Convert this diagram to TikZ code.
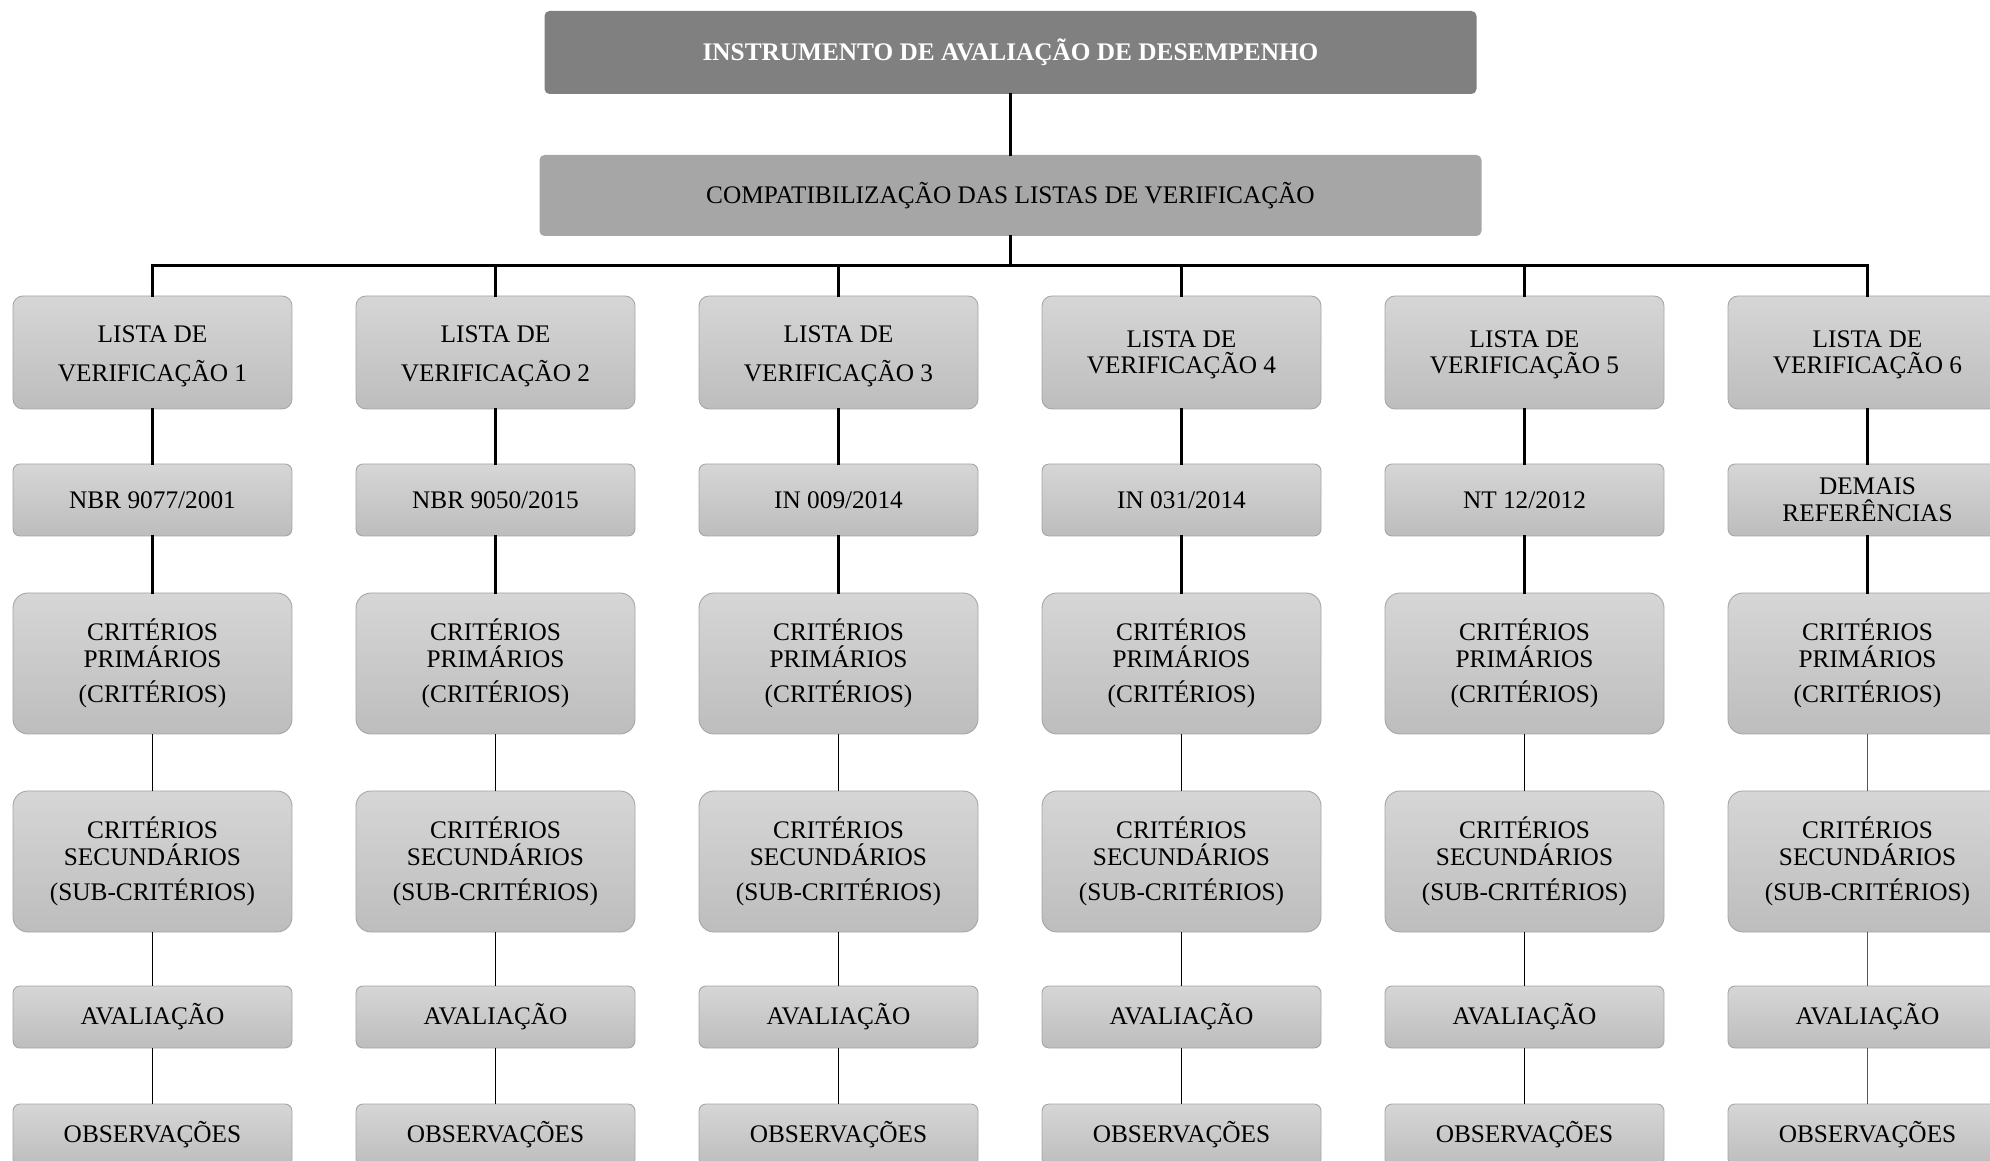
\documentclass[tikz,border=0pt]{standalone}
\usepackage{fontspec}
\setmainfont{Liberation Serif}
\usepackage{tikz}
\usetikzlibrary{positioning,calc}
\definecolor{TopGray}{RGB}{128,128,128}
\definecolor{MidGray}{RGB}{166,166,166}
\definecolor{BoxTop}{RGB}{214,214,214}
\definecolor{BoxBottom}{RGB}{189,189,189}
\definecolor{BoxEdge}{RGB}{165,165,165}
\definecolor{LineGray}{RGB}{85,85,85}
\tikzset{headbox/.style={rectangle,rounded corners=0.1cm,inner sep=0pt,align=center,
			font=\fontsize{14.4}{15.1}\selectfont}}
\tikzset{box/.style={rectangle,rounded corners=0.14cm,draw=BoxEdge,line width=0.5pt,
			top color=BoxTop,bottom color=BoxBottom,minimum width=5.58cm,inner sep=0pt,
			align=center,font=\fontsize{14.4}{15.1}\selectfont}}
\tikzset{listbox/.style={box,rounded corners=0.2cm,minimum height=2.26cm}}
\tikzset{refbox/.style={box,minimum height=1.44cm}}
\tikzset{critbox/.style={box,rounded corners=0.3cm,minimum height=2.82cm}}
\tikzset{lowbox/.style={box,minimum height=1.24cm}}
\tikzset{busline/.style={line width=1.4pt,line cap=rect}}
\tikzset{thinline/.style={line width=0.85pt}}

\begin{document}
\begin{tikzpicture}
	\useasboundingbox (0,0) rectangle (39.8,23.2);
	\clip (0,0) rectangle (39.8,23.2);
	\node[headbox,fill=TopGray,minimum width=18.64cm,minimum height=1.66cm,text=white] (instr) at (20.21,22.15) {\bfseries INSTRUMENTO DE AVALIAÇÃO DE DESEMPENHO};
	\node[headbox,fill=MidGray,minimum width=18.84cm,minimum height=1.62cm] (compat) at (20.21,19.29) {COMPATIBILIZAÇÃO DAS LISTAS DE VERIFICAÇÃO};
	\coordinate (bus) at (20.21,17.88);
	\draw[busline] (instr) -- (compat);
	\draw[busline] (compat) -- (bus);
	% one column per checklist
	\foreach \i/\ref in {1/{NBR 9077/2001},2/{NBR 9050/2015},3/{IN 009/2014},4/{IN 031/2014},5/{NT 12/2012},6/{DEMAIS\\REFERÊNCIAS}}{
		\pgfmathsetmacro{\x}{3.05+6.86*(\i-1)}
		\ifnum\i<4 \def\lsep{7.3pt}\def\lstrut{13.9pt}\else\def\lsep{0pt}\def\lstrut{12.3pt}\fi
		\ifnum\i=6 \def\lcol{LineGray}\else\def\lcol{black}\fi
		\node[listbox] (lista\i) at (\x,16.15) {\rule{0pt}{\lstrut}LISTA DE\\[\lsep]VERIFICAÇÃO \i};
		\node[refbox] (ref\i) at (\x,13.2) {\ref};
		\node[critbox] (prim\i) at (\x,9.93) {CRITÉRIOS\\PRIMÁRIOS\\[5pt](CRITÉRIOS)};
		\node[critbox] (sec\i) at (\x,5.97) {CRITÉRIOS\\SECUNDÁRIOS\\[5pt](SUB-CRITÉRIOS)};
		\node[lowbox] (aval\i) at (\x,2.86) {AVALIAÇÃO};
		\node[lowbox] (obs\i) at (\x,0.5) {OBSERVAÇÕES};
		\draw[busline] (lista\i |- bus) -- (lista\i.north);
		\draw[busline] (lista\i.south) -- (ref\i.north);
		\draw[busline] (ref\i.south) -- (prim\i.north);
		\draw[thinline,\lcol] (prim\i.south) -- (sec\i.north);
		\draw[thinline,\lcol] (sec\i.south) -- (aval\i.north);
		\draw[thinline,\lcol] (aval\i.south) -- (obs\i.north);
	}
	\draw[busline,line width=1.7pt] (lista1 |- bus) -- (lista6 |- bus);
\end{tikzpicture}
\end{document}
